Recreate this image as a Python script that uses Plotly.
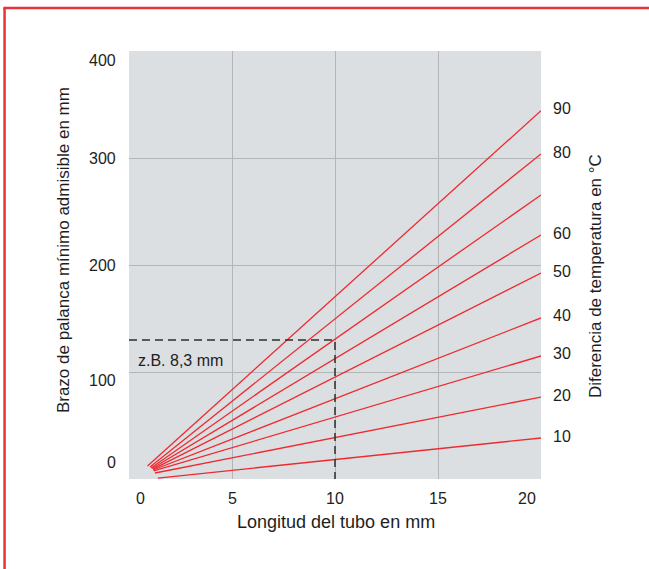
import plotly.graph_objects as go

# Data
temps = [10, 20, 30, 40, 50, 60, 70, 80, 90]
temp_labels = ["10", "20", "30", "40", "50", "60", "", "80", "90"]
x_start = [1.4, 1.26, 1.2, 1.17, 1.17, 1.12, 1.07, 1.02, 0.9]
y_start = [0.9, 5.6, 7.5, 8.4, 9.3, 9.8, 10.3, 11.2, 12.1]
x_end = [20, 20, 20, 20, 20, 20, 20, 20, 20]
y_end = [38.3, 76.6, 115.0, 150.5, 192.5, 228.0, 265.4, 303.7, 344.2]

example_x = 10
example_y = 130
example_text = "z.B. 8,3 mm"

x_ticks = [0, 5, 10, 15, 20]
y_ticks = [0, 100, 200, 300, 400]

FONT = "Liberation Sans, Arial, Helvetica, sans-serif"
TXT = "#1e1e1e"
RED = "#ee2a30"

# pixel nudges of individual tick labels (as drawn in the original artwork)
x_label_shift = {0: 11, 20: -14}
y_label_shift = {0: 17, 100: -8, 400: -9}

fig = go.Figure()

for t, xs, ys, xe, ye in zip(temps, x_start, y_start, x_end, y_end):
    fig.add_trace(go.Scatter(x=[xs, xe], y=[ys, ye], mode="lines",
                             line=dict(color=RED, width=1.3),
                             name=f"{t} °C", showlegend=False, hoverinfo="skip"))

# dashed example lines
fig.add_trace(go.Scatter(x=[0, example_x, example_x], y=[example_y, example_y, 0],
                         mode="lines", line=dict(color="#2e2e2e", width=1.5, dash="8px,5px"),
                         showlegend=False, hoverinfo="skip"))

tickfont = dict(family=FONT, size=16, color=TXT)
annotations = []
for v in x_ticks:
    annotations.append(dict(x=v, xref="x", y=0, yref="paper", yanchor="top", xanchor="center",
                            yshift=-9, xshift=x_label_shift.get(v, 0), text=str(v),
                            showarrow=False, font=tickfont))
for v in y_ticks:
    annotations.append(dict(x=0, xref="paper", y=v, yref="y", yanchor="middle", xanchor="right",
                            xshift=-11, yshift=y_label_shift.get(v, 0), text=str(v),
                            showarrow=False, font=tickfont))

for lab, ye in zip(temp_labels, y_end):
    if lab:
        annotations.append(dict(x=1.025, xref="paper", y=ye, yref="y", yshift=2,
                                text=lab, showarrow=False, xanchor="left", yanchor="middle",
                                font=dict(family=FONT, size=16, color=TXT)))

annotations.append(dict(x=0.34, xref="x", y=111, yref="y", text=example_text,
                        showarrow=False, xanchor="left", yanchor="middle",
                        font=dict(family=FONT, size=16, color=TXT)))

annotations.append(dict(x=-0.160, xref="paper", y=0.535, yref="paper",
                        text="Brazo de palanca mínimo admisible en mm", textangle=-90,
                        showarrow=False, xanchor="center", yanchor="middle",
                        font=dict(family=FONT, size=17, color=TXT)))
annotations.append(dict(x=0.502, xref="paper", y=-0.100, yref="paper",
                        text="Longitud del tubo en mm",
                        showarrow=False, xanchor="center", yanchor="middle",
                        font=dict(family=FONT, size=18, color=TXT)))
annotations.append(dict(x=1.131, xref="paper", y=0.474, yref="paper",
                        text="Diferencia de temperatura en °C", textangle=-90,
                        showarrow=False, xanchor="center", yanchor="middle",
                        font=dict(family=FONT, size=17, color=TXT)))

shapes = [
    dict(type="line", xref="paper", yref="paper", x0=-0.302, x1=-0.302, y0=1.1005, y1=-0.215,
         line=dict(color="#e8323a", width=2.5)),
    dict(type="line", xref="paper", yref="paper", x0=-0.305, x1=1.27, y0=1.1005, y1=1.1005,
         line=dict(color="#e8323a", width=2.5)),
]

fig.update_layout(
    width=649, height=569,
    margin=dict(l=129, r=108, t=51, b=90),
    paper_bgcolor="white", plot_bgcolor="#dcdfe2",
    annotations=annotations, shapes=shapes,
    font=dict(family=FONT, size=16, color=TXT),
    xaxis=dict(range=[0, 20], tickvals=x_ticks, showticklabels=False, showgrid=True,
               gridcolor="#b3b5b8", gridwidth=1, zeroline=False, showline=False),
    yaxis=dict(range=[0, 400], tickvals=y_ticks, showticklabels=False, showgrid=True,
               gridcolor="#b3b5b8", gridwidth=1, zeroline=False, showline=False),
)

fig.write_html("out.html")
